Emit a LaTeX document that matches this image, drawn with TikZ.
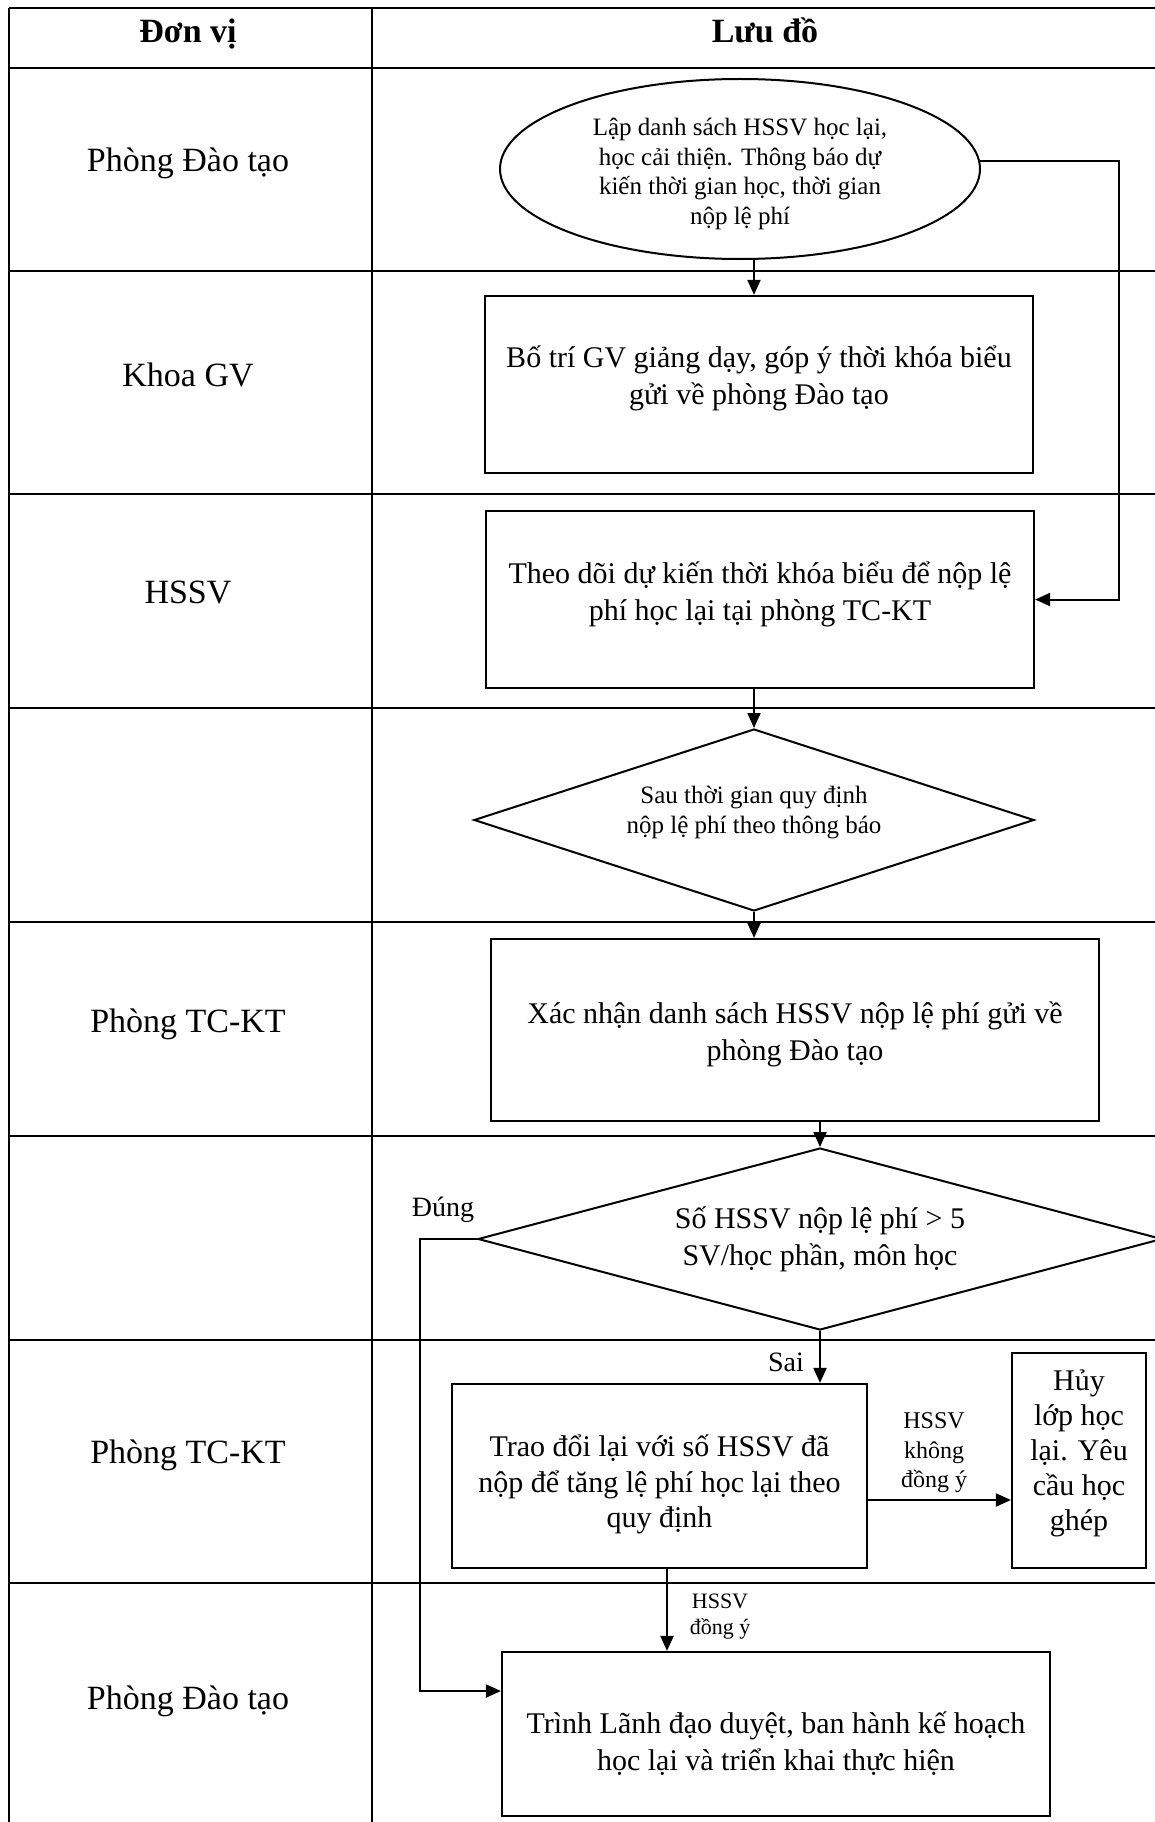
\documentclass[tikz,border=0pt]{standalone}
\usepackage{fontspec}
\setmainfont{Liberation Serif}
\usetikzlibrary{shapes.geometric,arrows.meta,calc}
\newcommand\hdfont{\fontsize{34}{40}\selectfont\bfseries}
\newcommand\lbfont{\fontsize{34}{40}\selectfont}
\newcommand\bxfont{\fontsize{30}{37}\selectfont}
\newcommand\smfont{\fontsize{25}{29.5}\selectfont}
\newcommand\tnfont{\fontsize{24}{29.5}\selectfont}
\newcommand\tifont{\fontsize{22}{26}\selectfont}
\newcommand\yfont{\fontsize{28}{33}\selectfont}
\tikzset{
  grid/.style={line width=2.4pt},
  stepbox/.style={draw, rectangle, line width=2.2pt, align=center, inner sep=0pt, font=\bxfont},
  decide/.style={draw, diamond, line width=2pt, align=center, inner sep=0pt},
  arr/.style={line width=2pt, -{Triangle[width=13pt,length=15pt]}},
  lane/.style={font=\lbfont, anchor=center, text height=24pt, text depth=0pt},
  head/.style={font=\hdfont, anchor=center, text height=24pt, text depth=0pt},
}
\begin{document}
\begin{tikzpicture}[x=1pt,y=-1pt]
\useasboundingbox (0,0) rectangle (1155,1822);
% table
\draw[grid] (9,8) -- (1165,8);
\foreach \yy in {68,271,494,708,922,1136,1340,1583}
  \draw[grid] (9,\yy) -- (1165,\yy);
\draw[grid] (9,8) -- (9,1830);
\draw[grid] (372,8) -- (372,1830);
% header and lane labels
\node[head] (h1) at (188,31) {Đơn vị};
\node[head] (h2) at (765,31) {Lưu đồ};
\node[lane] (l1) at (188,160) {Phòng Đào tạo};
\node[lane] (l2) at (188,374) {Khoa GV};
\node[lane] (l3) at (188,591) {HSSV};
\node[lane] (l4) at (188,1020) {Phòng TC-KT};
\node[lane] (l5) at (188,1451) {Phòng TC-KT};
\node[lane] (l6) at (188,1697) {Phòng Đào tạo};
% flow
\node[draw, ellipse, line width=2pt, minimum width=480pt, minimum height=180pt, inner sep=0pt, align=center, font=\smfont] (ell) at (740,169)
  {Lập danh sách HSSV học lại,\\học cải thiện. Thông báo dự\\kiến thời gian học, thời gian\\nộp lệ phí\\[-34.5pt]};
\node[stepbox, minimum width=548pt, minimum height=177pt] (b1) at (759,384.5)
  {Bố trí GV giảng dạy, góp ý thời khóa biểu\\gửi về phòng Đào tạo\\[-19pt]};
\node[stepbox, minimum width=548pt, minimum height=177pt] (b2) at (760,599.5)
  {Theo dõi dự kiến thời khóa biểu để nộp lệ\\phí học lại tại phòng TC-KT\\[-21pt]};
\node[decide, shape aspect=3.08, minimum width=560pt, minimum height=182pt, font=\smfont] (d1) at (754,820)
  {Sau thời gian quy định\\nộp lệ phí theo thông báo\\[-8.6pt]};
\node[stepbox, minimum width=608pt, minimum height=182pt] (b3) at (795,1030)
  {Xác nhận danh sách HSSV nộp lệ phí gửi về\\phòng Đào tạo\\[-39pt]};
\node[decide, shape aspect=3.76, minimum width=684pt, minimum height=182pt, font=\bxfont] (d2) at (820,1239)
  {Số HSSV nộp lệ phí > 5\\SV/học phần, môn học};
\node[stepbox, minimum width=415pt, minimum height=184pt, font=\fontsize{30}{35.5}\selectfont] (b4) at (659.5,1476)
  {Trao đổi lại với số HSSV đã\\nộp để tăng lệ phí học lại theo\\quy định\\[-46.5pt]};
\node[stepbox, minimum width=134pt, minimum height=215pt, font=\fontsize{30}{35}\selectfont] (huy) at (1079,1460.5)
  {Hủy\\lớp học\\lại. Yêu\\cầu học\\ghép\\[-13.7pt]};
\node[stepbox, minimum width=548pt, minimum height=164pt] (b5) at (776,1734)
  {Trình Lãnh đạo duyệt, ban hành kế hoạch\\học lại và triển khai thực hiện\\[-51pt]};
% connectors
\draw[arr] ([xshift=14pt]ell.south) -- ([xshift=-5pt]b1.north);
\draw[arr] (ell.2) -| ([xshift=84pt]b2.east) -- (b2.east);
\draw[arr] ([xshift=-6pt]b2.south) -- (d1.north);
\draw[arr] (d1.south) -- (d1.south |- b3.north);
\draw[arr] (b3.south -| d2.north) -- (d2.north);
\draw[arr] (d2.south) -- (d2.south |- b4.north);
\draw[arr] ([yshift=-24pt]b4.east) -- ([yshift=-24pt]b4.east -| huy.west);
\draw[arr] ([xshift=7.5pt]b4.south) -- ([xshift=7.5pt]b4.south |- b5.north);
\draw[arr] (d2.west) -- ++(-57,0) |- ([yshift=43pt]b5.west);
% labels
\node[font=\yfont] (tdung) at (443,1210) {Đúng};
\node[font=\yfont] (tsai) at (786,1362) {Sai};
\node[font=\tnfont, align=center] (tkhong) at (934,1453) {HSSV\\không\\đồng ý};
\node[font=\tifont, align=center] (tdy) at (720,1617) {HSSV\\đồng ý};
\end{tikzpicture}
\end{document}
